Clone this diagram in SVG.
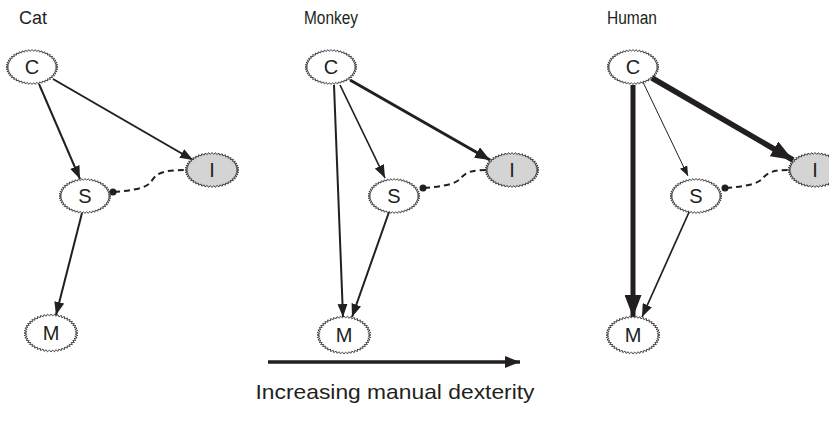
<svg xmlns="http://www.w3.org/2000/svg" xmlns:xlink="http://www.w3.org/1999/xlink" width="829" height="424" viewBox="0 0 829 424">
<style>
.title{font-family:"Liberation Sans",Arial,sans-serif;font-size:18px;fill:#231f20;text-anchor:middle}
.lbl{font-family:"Liberation Sans",Arial,sans-serif;font-size:20px;fill:#231f20;text-anchor:middle}
.node{fill:#fff;stroke:#231f20}
.gray{fill:#d4d4d4}
.e{fill:none;stroke:#231f20;stroke-linecap:butt}
.dash{fill:none;stroke:#231f20;stroke-width:2;stroke-dasharray:6 4}
.cap{font-family:"Liberation Sans",Arial,sans-serif;font-size:21px;fill:#231f20;text-anchor:middle}
</style>
<defs>
<path id="zz" vector-effect="non-scaling-stroke" stroke-width="0.8" d="M100,0 L89.8,5.9 99.1,13.1 88.3,17.6 96.6,25.9 85.2,28.9 92.4,38.3 80.7,39.8 86.6,50 74.8,50 79.3,60.9 67.7,59.3 70.7,70.7 59.3,67.7 60.9,79.3 50,74.8 50,86.6 39.8,80.7 38.3,92.4 28.9,85.2 25.9,96.6 17.6,88.3 13.1,99.1 5.9,89.8 0,100 -5.9,89.8 -13.1,99.1 -17.6,88.3 -25.9,96.6 -28.9,85.2 -38.3,92.4 -39.8,80.7 -50,86.6 -50,74.8 -60.9,79.3 -59.3,67.7 -70.7,70.7 -67.7,59.3 -79.3,60.9 -74.8,50 -86.6,50 -80.7,39.8 -92.4,38.3 -85.2,28.9 -96.6,25.9 -88.3,17.6 -99.1,13.1 -89.8,5.9 -100,0 -89.8,-5.9 -99.1,-13.1 -88.3,-17.6 -96.6,-25.9 -85.2,-28.9 -92.4,-38.3 -80.7,-39.8 -86.6,-50 -74.8,-50 -79.3,-60.9 -67.7,-59.3 -70.7,-70.7 -59.3,-67.7 -60.9,-79.3 -50,-74.8 -50,-86.6 -39.8,-80.7 -38.3,-92.4 -28.9,-85.2 -25.9,-96.6 -17.6,-88.3 -13.1,-99.1 -5.9,-89.8 0,-100 5.9,-89.8 13.1,-99.1 17.6,-88.3 25.9,-96.6 28.9,-85.2 38.3,-92.4 39.8,-80.7 50,-86.6 50,-74.8 60.9,-79.3 59.3,-67.7 70.7,-70.7 67.7,-59.3 79.3,-60.9 74.8,-50 86.6,-50 80.7,-39.8 92.4,-38.3 85.2,-28.9 96.6,-25.9 88.3,-17.6 99.1,-13.1 89.8,-5.9 Z"/>
<marker id="ah" markerUnits="userSpaceOnUse" markerWidth="14" markerHeight="10" refX="13" refY="5" orient="auto" viewBox="0 0 14 10"><path d="M0,0 L13,5 L0,10 Z" fill="#231f20"/></marker>
<marker id="ahThin" markerUnits="userSpaceOnUse" markerWidth="11" markerHeight="8" refX="10" refY="4" orient="auto" viewBox="0 0 11 8"><path d="M0,0 L10,4 L0,8 Z" fill="#231f20"/></marker>
<marker id="ahMed" markerUnits="userSpaceOnUse" markerWidth="16" markerHeight="12" refX="15" refY="6" orient="auto" viewBox="0 0 16 12"><path d="M0,0 L15,6 L0,12 Z" fill="#231f20"/></marker>
<marker id="ahBig" markerUnits="userSpaceOnUse" markerWidth="23" markerHeight="17" refX="22" refY="8.5" orient="auto" viewBox="0 0 23 17"><path d="M0,0 L22,8.5 L0,17 Z" fill="#231f20"/></marker>
</defs>

<text class="title" x="33" y="24" textLength="28" lengthAdjust="spacingAndGlyphs">Cat</text>
<text class="title" x="331" y="24" textLength="54" lengthAdjust="spacingAndGlyphs">Monkey</text>
<text class="title" x="632" y="24" textLength="50" lengthAdjust="spacingAndGlyphs">Human</text>

<g id="connectors">
<!-- Cat -->
<line class="e" x1="39" y1="84" x2="80" y2="179" stroke-width="2" marker-end="url(#ah)"/>
<line class="e" x1="53" y1="79" x2="193" y2="160" stroke-width="2" marker-end="url(#ah)"/>
<line class="e" x1="82" y1="213" x2="56" y2="315" stroke-width="2" marker-end="url(#ah)"/>
<path class="dash" d="M114,192 C136,190 146,188 151,182 C156,173 163,170 186,170"/>
<circle cx="113" cy="192" r="3.5" fill="#231f20"/>
<!-- Monkey -->
<line class="e" x1="340" y1="85" x2="385" y2="178" stroke-width="1.7" marker-end="url(#ah)"/>
<line class="e" x1="350" y1="80" x2="490" y2="160" stroke-width="3" marker-end="url(#ahMed)"/>
<line class="e" x1="334" y1="85" x2="343" y2="317" stroke-width="2" marker-end="url(#ah)"/>
<line class="e" x1="389" y1="212" x2="352" y2="317" stroke-width="2" marker-end="url(#ah)"/>
<path class="dash" d="M424,188 C446,186 456,184 461,178 C466,172 472,170 488,170"/>
<circle cx="423" cy="188" r="3.5" fill="#231f20"/>
<!-- Human -->
<line class="e" x1="642" y1="80" x2="688" y2="176" stroke-width="1" marker-end="url(#ahThin)"/>
<line class="e" x1="652" y1="78" x2="793" y2="160" stroke-width="5.5" marker-end="url(#ahBig)"/>
<line class="e" x1="633" y1="85" x2="633" y2="317" stroke-width="5" marker-end="url(#ahBig)"/>
<line class="e" x1="690" y1="210" x2="642" y2="317" stroke-width="1.7" marker-end="url(#ah)"/>
<path class="dash" d="M726,188 C748,186 758,184 763,178 C768,172 774,170 789,170"/>
<circle cx="725" cy="188" r="3.5" fill="#231f20"/>
<!-- bottom arrow -->
<line class="e" x1="268" y1="362" x2="520" y2="362" stroke-width="3.5" marker-end="url(#ahMed)"/>
</g>

<g id="cat-C"><use xlink:href="#zz" transform="translate(32,67) scale(0.26,0.175)" class="node"/><text class="lbl" x="32" y="74">C</text></g>
<g id="cat-S"><use xlink:href="#zz" transform="translate(85,196) scale(0.26,0.175)" class="node"/><text class="lbl" x="85" y="203">S</text></g>
<g id="cat-I"><use xlink:href="#zz" transform="translate(212,170) scale(0.27,0.175)" class="node gray"/><text class="lbl" x="212" y="177">I</text></g>
<g id="cat-M"><use xlink:href="#zz" transform="translate(51,333) scale(0.27,0.19)" class="node"/><text class="lbl" x="51" y="340">M</text></g>

<g id="monkey-C"><use xlink:href="#zz" transform="translate(331,67) scale(0.26,0.175)" class="node"/><text class="lbl" x="331" y="74">C</text></g>
<g id="monkey-S"><use xlink:href="#zz" transform="translate(394,196) scale(0.26,0.175)" class="node"/><text class="lbl" x="394" y="203">S</text></g>
<g id="monkey-I"><use xlink:href="#zz" transform="translate(512,170) scale(0.27,0.175)" class="node gray"/><text class="lbl" x="512" y="177">I</text></g>
<g id="monkey-M"><use xlink:href="#zz" transform="translate(344,335) scale(0.27,0.19)" class="node"/><text class="lbl" x="344" y="342">M</text></g>

<g id="human-C"><use xlink:href="#zz" transform="translate(633,67) scale(0.26,0.175)" class="node"/><text class="lbl" x="633" y="74">C</text></g>
<g id="human-S"><use xlink:href="#zz" transform="translate(696,196) scale(0.26,0.175)" class="node"/><text class="lbl" x="696" y="203">S</text></g>
<g id="human-I"><use xlink:href="#zz" transform="translate(815,170) scale(0.27,0.175)" class="node gray"/><text class="lbl" x="815" y="177">I</text></g>
<g id="human-M"><use xlink:href="#zz" transform="translate(633,335) scale(0.27,0.19)" class="node"/><text class="lbl" x="633" y="342">M</text></g>

<text class="cap" x="395" y="399" textLength="279" lengthAdjust="spacingAndGlyphs">Increasing manual dexterity</text>
</svg>
